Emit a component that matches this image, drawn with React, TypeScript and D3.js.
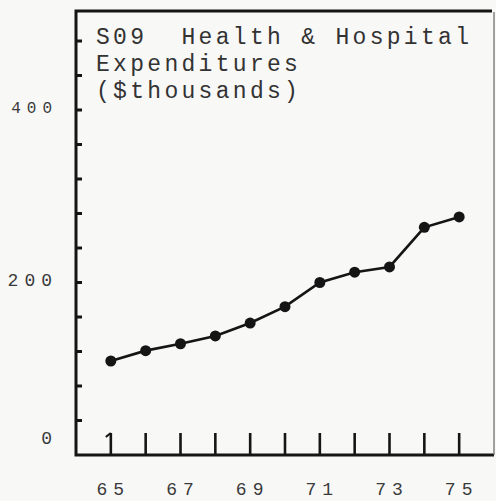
import { useEffect, useRef } from "react";
import * as d3 from "d3";

// fiscal years (19xx) and expenditures in $ thousands
const years = [65, 66, 67, 68, 69, 70, 71, 72, 73, 74, 75];
const expenditures = [109, 121, 129, 138, 153, 172, 200, 212, 218, 264, 276];
const yTickLabels = [0, 200, 400];
const xTickLabels = [65, 67, 69, 71, 73, 75];
const yMinorTicks = [40, 80, 120, 160, 200, 240, 280, 320, 360, 400, 440, 480];
const titleLines = ["S09  Health & Hospital", "Expenditures", "($thousands)"];

var W = 496, H = 501;
var ink = "#151515";
var mono = "Liberation Mono, DejaVu Sans Mono, monospace";

function App() {
    const ref = useRef<SVGSVGElement>(null);

    useEffect(() => {
        var svg = d3.select(ref.current);
        svg.selectAll("*").remove();

        var x = d3.scaleLinear().domain([64, 76]).range([76, 494]);
        var y = d3.scaleLinear().domain([0, 400]).range([455, 110]);

        svg.append("rect").attr("width", W).attr("height", H).attr("fill", "#f8f8f7");

        // frame: left axis, bottom axis, top and right border
        svg.append("path")
            .attr("d", `M${x(76)},${y(0)} L${x(64)},${y(0)} L${x(64)},11 L${x(76) - 2},11`)
            .attr("fill", "none").attr("stroke", ink).attr("stroke-width", 3);
        svg.append("line")
            .attr("x1", x(76)).attr("x2", x(76)).attr("y1", 12).attr("y2", y(0))
            .attr("stroke", "#666").attr("stroke-width", 1.2);

        // left ticks
        svg.append("g").selectAll("line").data(yMinorTicks).enter().append("line")
            .attr("x1", x(64)).attr("x2", x(64) + 6)
            .attr("y1", d => y(d)).attr("y2", d => y(d))
            .attr("stroke", ink).attr("stroke-width", 3);

        // year ticks standing on the bottom axis
        svg.append("g").selectAll("line").data(years).enter().append("line")
            .attr("x1", d => x(d)).attr("x2", d => x(d))
            .attr("y1", y(0)).attr("y2", y(0) - 22)
            .attr("stroke", ink).attr("stroke-width", 2.6);
        svg.append("path")
            .attr("d", `M${x(years[0])},${y(0) - 22} l-5,4`)
            .attr("stroke", ink).attr("stroke-width", 2.2);

        // y labels
        svg.append("g").selectAll("text").data(yTickLabels).enter().append("text")
            .attr("x", 58).attr("y", d => d === 0 ? y(d) - 11 : y(d) + 3)
            .attr("text-anchor", "end")
            .attr("font-family", mono)
            .attr("font-size", d => d === 400 ? 16 : 18).attr("letter-spacing", 6)
            .attr("fill", "#3a3a3a")
            .text(d => String(d));

        // x labels
        svg.append("g").selectAll("text").data(xTickLabels).enter().append("text")
            .attr("x", d => x(d) + 2.5).attr("y", 495)
            .attr("text-anchor", "middle")
            .attr("font-family", mono)
            .attr("font-size", 18).attr("letter-spacing", 6)
            .attr("fill", "#3a3a3a")
            .text(d => String(d));

        // title
        svg.append("g").selectAll("text").data(titleLines).enter().append("text")
            .attr("x", 96).attr("y", (d, i) => 44 + i * 27)
            .attr("font-family", mono)
            .attr("font-size", 23).attr("letter-spacing", 3.3)
            .attr("fill", "#333")
            .style("white-space", "pre")
            .text(d => d);

        // the line
        var line = d3.line<number>()
            .x((d, i) => x(years[i]))
            .y(d => y(d));
        svg.append("path")
            .datum(expenditures)
            .attr("fill", "none").attr("stroke", ink).attr("stroke-width", 2.6)
            .attr("d", line);
        svg.append("g").selectAll("circle").data(expenditures).enter().append("circle")
            .attr("cx", (d, i) => x(years[i])).attr("cy", d => y(d))
            .attr("r", 5.5).attr("fill", ink);
    }, []);

    return (
        <svg ref={ref} width={W} height={H}
            style={{ position: "absolute", left: 0, top: 0, display: "block" }} />
    );
}

export default App;
